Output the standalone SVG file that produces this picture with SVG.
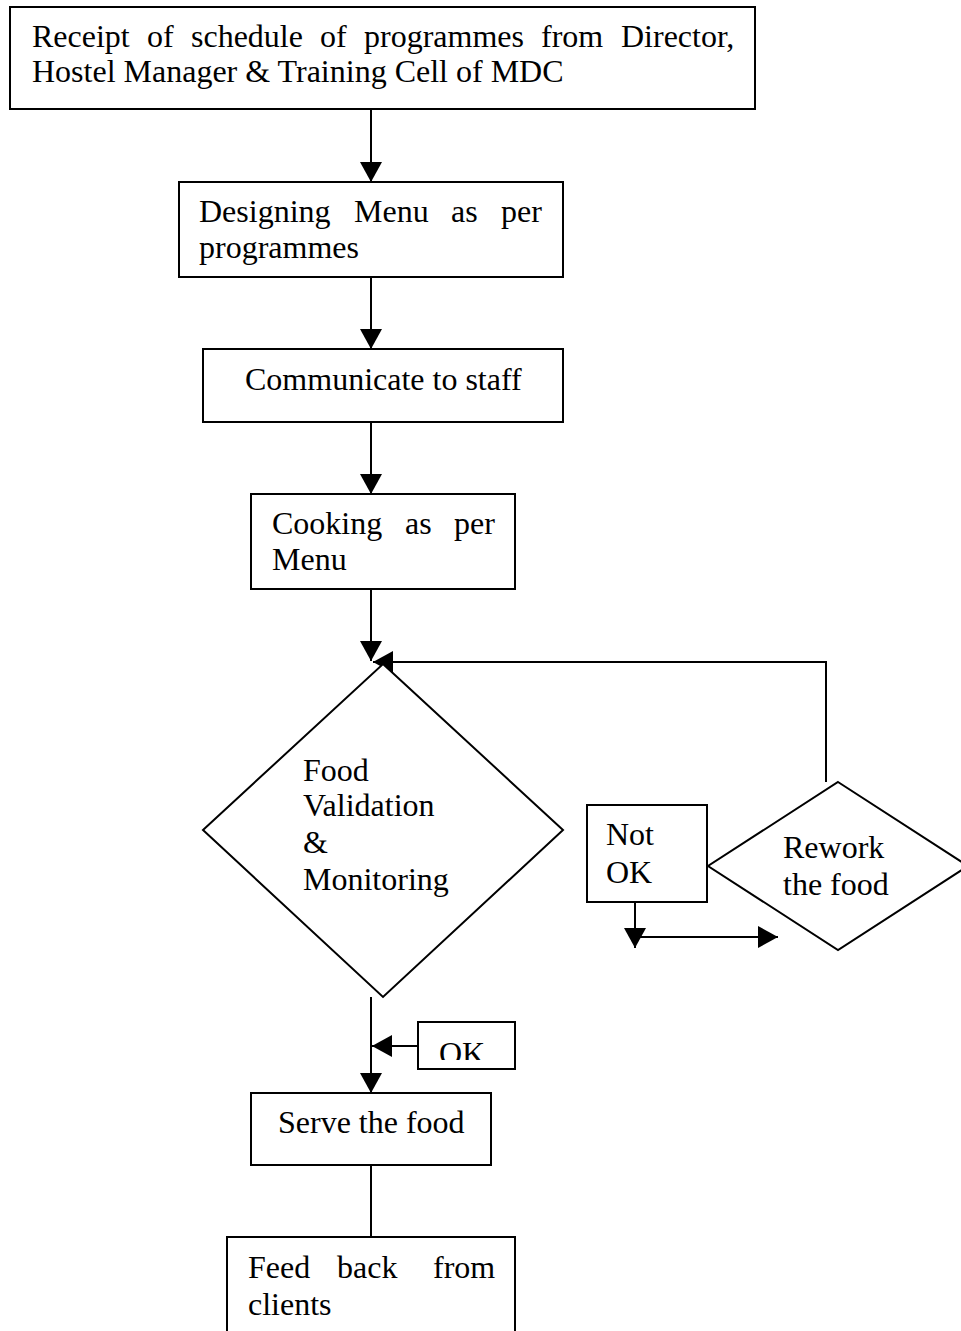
<svg xmlns="http://www.w3.org/2000/svg" width="961" height="1331" viewBox="0 0 961 1331">
<style>
.b{fill:#fff;stroke:#000;stroke-width:2}
.l{fill:none;stroke:#000;stroke-width:2}
text{font-family:"Liberation Serif","Times New Roman",serif;font-size:32px;fill:#000}
</style>
<defs>
<marker id="ah" viewBox="0 0 20 22" refX="20" refY="11" markerWidth="20" markerHeight="22" markerUnits="userSpaceOnUse" orient="auto">
<path d="M0,0 L20,11 L0,22 Z" fill="#000"/>
</marker>
<clipPath id="okclip"><rect x="418" y="1022" width="97" height="38"/></clipPath>
</defs>
<rect width="961" height="1331" fill="#fff"/>
<g id="connectors">
<line class="l" x1="371" y1="109" x2="371" y2="182" marker-end="url(#ah)"/>
<line class="l" x1="371" y1="277" x2="371" y2="349" marker-end="url(#ah)"/>
<line class="l" x1="371" y1="422" x2="371" y2="494" marker-end="url(#ah)"/>
<line class="l" x1="371" y1="589" x2="371" y2="661" marker-end="url(#ah)"/>
<polyline class="l" points="826,782 826,662 373,662" marker-end="url(#ah)"/>
<line class="l" x1="371" y1="997" x2="371" y2="1093" marker-end="url(#ah)"/>
<line class="l" x1="418" y1="1046" x2="372" y2="1046" marker-end="url(#ah)"/>
<line class="l" x1="635" y1="902" x2="635" y2="948" marker-end="url(#ah)"/>
<line class="l" x1="635" y1="937" x2="778" y2="937" marker-end="url(#ah)"/>
<line class="l" x1="371" y1="1165" x2="371" y2="1237"/>
</g>
<g id="n1">
<rect class="b" x="10" y="7" width="745" height="102"/>
<text y="47"><tspan x="32">Receipt</tspan><tspan x="147">of</tspan><tspan x="191">schedule</tspan><tspan x="320">of</tspan><tspan x="364">programmes</tspan><tspan x="541">from</tspan><tspan x="621">Director,</tspan></text>
<text x="32" y="82">Hostel Manager &amp; Training Cell of MDC</text>
</g>
<g id="n2">
<rect class="b" x="179" y="182" width="384" height="95"/>
<text y="222"><tspan x="199">Designing</tspan><tspan x="354">Menu</tspan><tspan x="451">as</tspan><tspan x="501">per</tspan></text>
<text x="199" y="258">programmes</text>
</g>
<g id="n3">
<rect class="b" x="203" y="349" width="360" height="73"/>
<text x="245" y="390">Communicate to staff</text>
</g>
<g id="n4">
<rect class="b" x="251" y="494" width="264" height="95"/>
<text y="534"><tspan x="272">Cooking</tspan><tspan x="405">as</tspan><tspan x="454">per</tspan></text>
<text x="272" y="570">Menu</text>
</g>
<g id="n5">
<polygon class="b" points="383,664 563,830 383,997 203,830"/>
<text x="303" y="781">Food</text>
<text x="303" y="816">Validation</text>
<text x="303" y="853">&amp;</text>
<text x="303" y="890">Monitoring</text>
</g>
<g id="n6">
<rect class="b" x="587" y="805" width="120" height="97"/>
<text x="606" y="845">Not</text>
<text x="606" y="883">OK</text>
</g>
<g id="n7">
<polygon class="b" points="838,782 968,866 838,950 708,866"/>
<text x="783" y="858">Rework</text>
<text x="783" y="895">the food</text>
</g>
<g id="n8">
<rect class="b" x="418" y="1022" width="97" height="47"/>
<text x="439" y="1064" clip-path="url(#okclip)">OK</text>
</g>
<g id="n9">
<rect class="b" x="251" y="1093" width="240" height="72"/>
<text x="278" y="1133">Serve the food</text>
</g>
<g id="n10">
<rect class="b" x="227" y="1237" width="288" height="110"/>
<text y="1278"><tspan x="248">Feed</tspan><tspan x="337">back</tspan><tspan x="433">from</tspan></text>
<text x="248" y="1315">clients</text>
</g>
</svg>
